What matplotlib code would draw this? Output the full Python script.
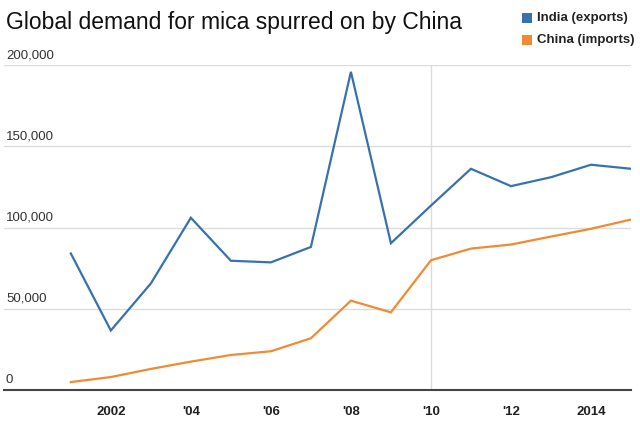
import matplotlib
matplotlib.use("Agg")
import matplotlib.pyplot as plt
from matplotlib.patches import Rectangle

years = list(range(2001, 2016))
india_exports = [84000, 36500, 65500, 106000, 79500, 78500, 88000, 196000,
                 90300, 113500, 136200, 125500, 131000, 138700, 136200]
china_imports = [4700, 7800, 12800, 17300, 21400, 23700, 31700, 54900,
                 47700, 79800, 87000, 89500, 94400, 99200, 104900]
xtick_years = [2002, 2004, 2006, 2008, 2010, 2012, 2014]
xtick_labels = ["2002", "'04", "'06", "'08", "'10", "'12", "2014"]
ytick_values = [0, 50000, 100000, 150000, 200000]
ytick_labels = ["0", "50,000", "100,000", "150,000", "200,000"]
series_names = ["India (exports)", "China (imports)"]
title = "Global demand for mica spurred on by China"

BLUE = "#3871b0"
ORANGE = "#f08a33"
GRID = "#dcdcdc"
FONT = "Liberation Sans"

fig = plt.figure(figsize=(6.4, 4.24), dpi=100)
ax = fig.add_axes([4/640, (424-389.7)/424, (631-4)/640, (389.7-65.3)/424])
ax.set_xlim(1999.33, 2015)
ax.set_ylim(0, 200000)

for v in ytick_values[1:]:
    ax.axhline(v, color=GRID, lw=1.0, zorder=1)
ax.axvline(2010, color=GRID, lw=1.0, zorder=1)
ax.axhline(0, color="#444444", lw=1.5, zorder=3, clip_on=False)

ax.plot(years, india_exports, color=BLUE, lw=1.6, zorder=4, solid_joinstyle="miter")
ax.plot(years, china_imports, color=ORANGE, lw=1.6, zorder=4, solid_joinstyle="miter")

for s in ax.spines.values():
    s.set_visible(False)
ax.set_yticks([])
ax.set_xticks(xtick_years)
ax.set_xticklabels(xtick_labels, fontfamily=FONT, fontweight="bold",
                   fontsize=9.5, color="#222222")
ax.tick_params(axis="x", length=0, pad=12)

for v, lab in zip(ytick_values, ytick_labels):
    ax.annotate(lab, xy=(0, v), xycoords=("axes fraction", "data"),
                xytext=(2, 10), textcoords="offset pixels",
                ha="left", va="center", fontfamily=FONT, fontsize=9.5,
                color="#333333")

fig.text(6/640, 1-22/424, title, fontfamily=FONT, fontsize=16.5,
         color="#111111", ha="left", va="center")

for i, (name, col) in enumerate(zip(series_names, [BLUE, ORANGE])):
    yc = 1 - (18 + i*22)/424
    fig.patches.append(Rectangle((522/640, yc - 5/424), 10/640, 10/424,
                                 transform=fig.transFigure, facecolor=col,
                                 edgecolor="none"))
    fig.text(537/640, yc, name, fontfamily=FONT, fontweight="bold",
             fontsize=9.5, color="#222222", ha="left", va="center")

fig.savefig("out.png", dpi=100)
